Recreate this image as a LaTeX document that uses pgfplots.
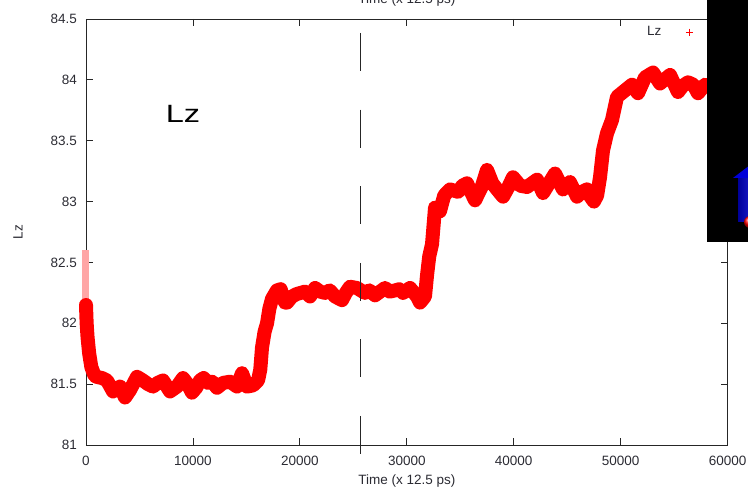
\documentclass[border=0pt]{standalone}
\usepackage{fontspec}
\setmainfont{Liberation Sans}
\usepackage{pgfplots}
\usepackage{pgfplotstable}
\pgfplotsset{compat=1.18}

\definecolor{txt}{HTML}{2B2B33}
\newcommand{\lblfont}{\fontsize{13.5}{16}\selectfont}

% Lz against time step
\pgfplotstableread{
t      lz
0      82.15
60     82.00
150    81.88
300    81.75
500    81.64
800    81.57
1000   81.56
1500   81.55
1960   81.53
2530   81.44
3180   81.48
3650   81.39
4110   81.45
4770   81.56
5330   81.53
5800   81.50
6270   81.48
6700   81.51
7200   81.53
7860   81.44
8510   81.48
9070   81.55
9500   81.50
9910   81.43
10300  81.47
10660  81.53
11000  81.55
11410  81.51
11800  81.52
12250  81.47
12810  81.51
13470  81.52
14120  81.48
14590  81.59
15060  81.48
15620  81.49
16090  81.53
16300  81.62
16460  81.80
16700  81.93
16930  82.00
17150  82.12
17390  82.20
17860  82.27
18200  82.28
18610  82.17
18800  82.17
19260  82.22
19700  82.24
20480  82.26
20950  82.22
21420  82.29
21900  82.26
22350  82.25
22800  82.27
23290  82.22
23940  82.19
24300  82.25
24690  82.30
25340  82.29
25700  82.27
26090  82.25
26500  82.27
27030  82.23
27500  82.26
27960  82.29
28400  82.26
28900  82.27
29300  82.28
29650  82.25
30300  82.29
30950  82.22
31240  82.17
31700  82.22
31900  82.40
32100  82.55
32360  82.65
32640  82.95
33100  82.92
33500  83.05
34040  83.10
34800  83.08
35200  83.13
35630  83.15
36000  83.08
36380  83.01
37000  83.12
37500  83.26
38000  83.15
38440  83.10
39000  83.04
39500  83.12
39930  83.20
40600  83.13
41240  83.12
42180  83.18
42740  83.07
43300  83.15
43860  83.23
44200  83.17
44610  83.10
45260  83.16
45920  83.04
46400  83.08
46850  83.10
47100  83.05
47500  83.00
47800  83.05
48070  83.20
48350  83.42
48720  83.56
49190  83.67
49660  83.86
50220  83.90
51060  83.96
51620  83.89
52280  84.02
53030  84.06
53680  83.97
54620  84.04
55360  83.90
55800  83.95
56300  83.98
56800  83.96
57230  83.89
57890  83.96
58200  83.95
}\lzdata

\begin{document}
\begin{tikzpicture}
\begin{axis}[
    scale only axis,
    width=641.6pt, height=426pt,
    xmin=0, xmax=60000,
    ymin=81, ymax=84.5,
    xtick={0,10000,...,60000},
    ytick={81,81.5,...,84.5},
    scaled x ticks=false,
    /pgf/number format/1000 sep={},
    /pgf/number format/assume math mode=true,
    tick pos=both,
    tick align=inside,
    major tick length=7pt,
    axis line style={black!85, line width=0.8pt},
    every tick/.style={black!85, line width=0.8pt},
    tick label style={font=\lblfont, text=txt, inner sep=0pt},
    xticklabel style={anchor=center, yshift=-16pt},
    yticklabel style={anchor=east, xshift=-9pt},
    xlabel={Time (x 12.5 ps)},
    ylabel={Lz},
    every axis x label/.style={at={(axis description cs:0.5,-0.0939)}, anchor=base,
                               font=\lblfont, text=txt},
    every axis y label/.style={at={(axis description cs:-0.106,0.5)}, rotate=90,
                               anchor=center, font=\lblfont, text=txt},
    clip=false,
    legend plot pos=right,
    legend style={draw=none, fill=none, at={(axis cs:57090,84.393)}, anchor=east},
]
% sparse start of the run
\addplot[red!35, line width=7pt, forget plot] coordinates {(0,82.60) (0,82.05)};
\addplot[red, line width=14pt, line join=round, line cap=round, no markers, forget plot]
    table[x=t, y=lz] {\lzdata};
% marker line
\addplot[black!85, line width=0.9pt, dash pattern=on 38pt off 38.6pt, forget plot]
    coordinates {(25700,84.385) (25700,80.918)};
\addlegendimage{legend image code/.code={
    \path[draw=none] (0pt,0pt) -- (30pt,0pt);
    \draw[red, mark=+, mark size=3.5pt, only marks] plot coordinates {(26pt,0pt)};}}
\addlegendentry{\lblfont\color{txt}Lz}
\node[font=\fontsize{25}{30}\selectfont, text=black] at (axis cs:9071,83.72)
    {\scalebox{1.3}[1]{Lz}};
\node[font=\lblfont, text=txt, anchor=base]
    at ([yshift=15pt]axis description cs:0.5,1) {Time (x 12.5 ps)};
\end{axis}
% overlay on the right edge
\fill[black] (621pt,203pt) rectangle (670pt,450pt);
\shade[left color=blue!60!black, right color=blue!80!white] (652pt,223pt) rectangle (680pt,267pt);
\fill[blue!85!black] (647pt,267pt) -- (668pt,283pt) -- (689pt,267pt) -- cycle;
\shade[ball color=red] (664pt,223pt) circle (6pt);
\pgfresetboundingbox
\useasboundingbox (-86pt,-44pt) rectangle (662pt,445pt);
\end{tikzpicture}
\end{document}
